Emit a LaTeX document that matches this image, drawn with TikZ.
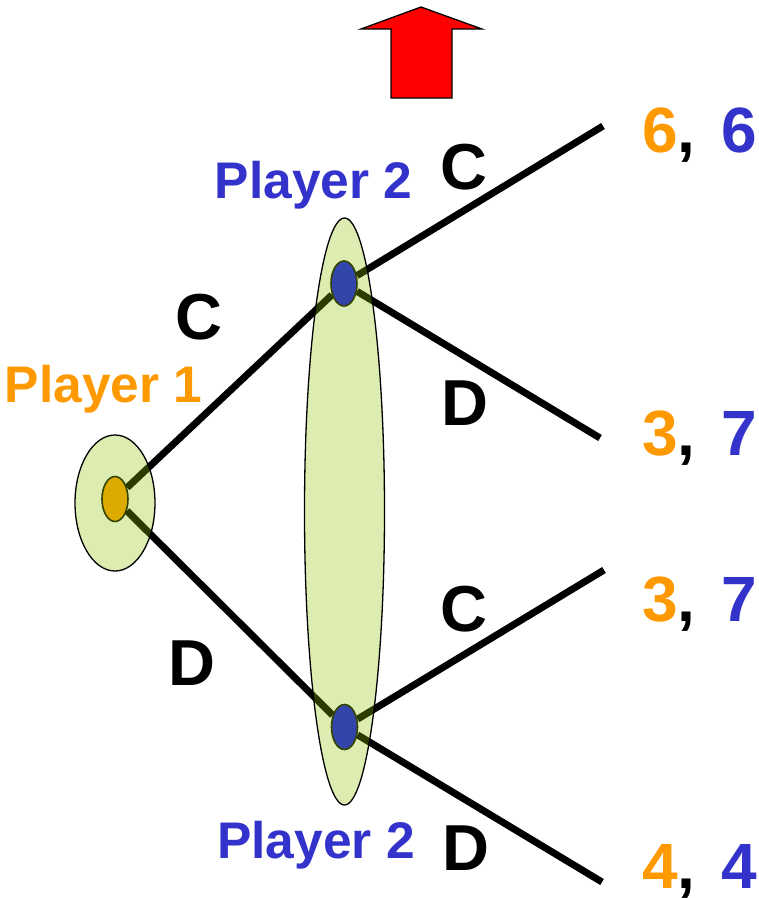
\documentclass[tikz,border=0pt]{standalone}
\usepackage{fontspec}
\setmainfont{Liberation Sans}
\usetikzlibrary{shapes.geometric}
\definecolor{pone}{HTML}{FF9900}
\definecolor{ptwo}{HTML}{3333CC}
\definecolor{setfill}{RGB}{145,194,0}
\definecolor{nodeedge}{HTML}{334400}
\definecolor{ponenode}{HTML}{DDAA00}
\definecolor{ptwonode}{HTML}{3344AA}
\pgfdeclarelayer{edges}
\pgfdeclarelayer{sets}
\pgfsetlayers{edges,sets,main}
\begin{document}
\begin{tikzpicture}[x=1pt,y=-1pt,
  branch/.style={line width=7pt, line cap=butt},
  infoset/.style={ellipse, draw=black, line width=1.3pt, fill=setfill, fill opacity=0.31, inner sep=0pt},
  decnode/.style={ellipse, draw=nodeedge, line width=1.6pt, inner sep=0pt, minimum width=26pt, minimum height=45pt},
  movelbl/.style={font=\bfseries\fontsize{65}{70}\selectfont, anchor=base, inner sep=0pt},
  playerlbl/.style={font=\bfseries\fontsize{51.5}{60}\selectfont, anchor=base, inner sep=0pt},
  payoff/.style={font=\bfseries\fontsize{64}{70}\selectfont, anchor=base west, inner sep=0pt, text depth=0pt},
  uparrow/.style={fill=red, draw=black, line width=1.3pt, line join=miter}]
\useasboundingbox (0,0) rectangle (759,898);

% decision nodes
\node[decnode, fill=ponenode] (p1) at (115,499) {};
\node[decnode, fill=ptwonode] (t) at (344,283.5) {};
\node[decnode, fill=ptwonode] (b) at (344.5,727) {};

% terminal points
\coordinate (tc) at (603,126);
\coordinate (td) at (600,438);
\coordinate (bc) at (604,570);
\coordinate (bd) at (602,882);

% branches
\begin{pgfonlayer}{edges}
\draw[branch] (p1) -- (t);
\draw[branch] (p1) -- (b);
\draw[branch] (t) -- (tc);
\draw[branch] (t) -- (td);
\draw[branch] (b) -- (bc);
\draw[branch] (b) -- (bd);
\end{pgfonlayer}

% information sets
\begin{pgfonlayer}{sets}
\node[infoset, minimum width=80pt, minimum height=136pt] (s1) at (115,503) {};
\node[infoset, minimum width=80pt, minimum height=587pt] (s2) at (344.5,511.5) {};
\end{pgfonlayer}

% arrow
\draw[uparrow] (421,7) -- (482,29) -- (452,29) -- (452,98) -- (391,98) -- (391,29) -- (361,29) -- cycle;

% player labels
\node[playerlbl, text=ptwo] (l2t) at (313.5,198) {Player 2};
\node[playerlbl, text=pone] (l1) at (103.5,402) {Player 1};
\node[playerlbl, text=ptwo] (l2b) at (316,858) {Player 2};

% move labels
\node[movelbl] (mc1) at (199,339) {C};
\node[movelbl] (md1) at (192,685) {D};
\node[movelbl] (mc2) at (464,189) {C};
\node[movelbl] (md2) at (465,425) {D};
\node[movelbl] (mc3) at (464,631) {C};
\node[movelbl] (md3) at (466,870) {D};

% payoffs
\node[payoff] (o1) at (642,152) {\textcolor{pone}{6}, \kern8pt\textcolor{ptwo}{6}};
\node[payoff] (o2) at (642,455) {\textcolor{pone}{3}, \kern8pt\textcolor{ptwo}{7}};
\node[payoff] (o3) at (642,621) {\textcolor{pone}{3}, \kern8pt\textcolor{ptwo}{7}};
\node[payoff] (o4) at (642,888) {\textcolor{pone}{4}, \kern8pt\textcolor{ptwo}{4}};
\end{tikzpicture}
\end{document}
